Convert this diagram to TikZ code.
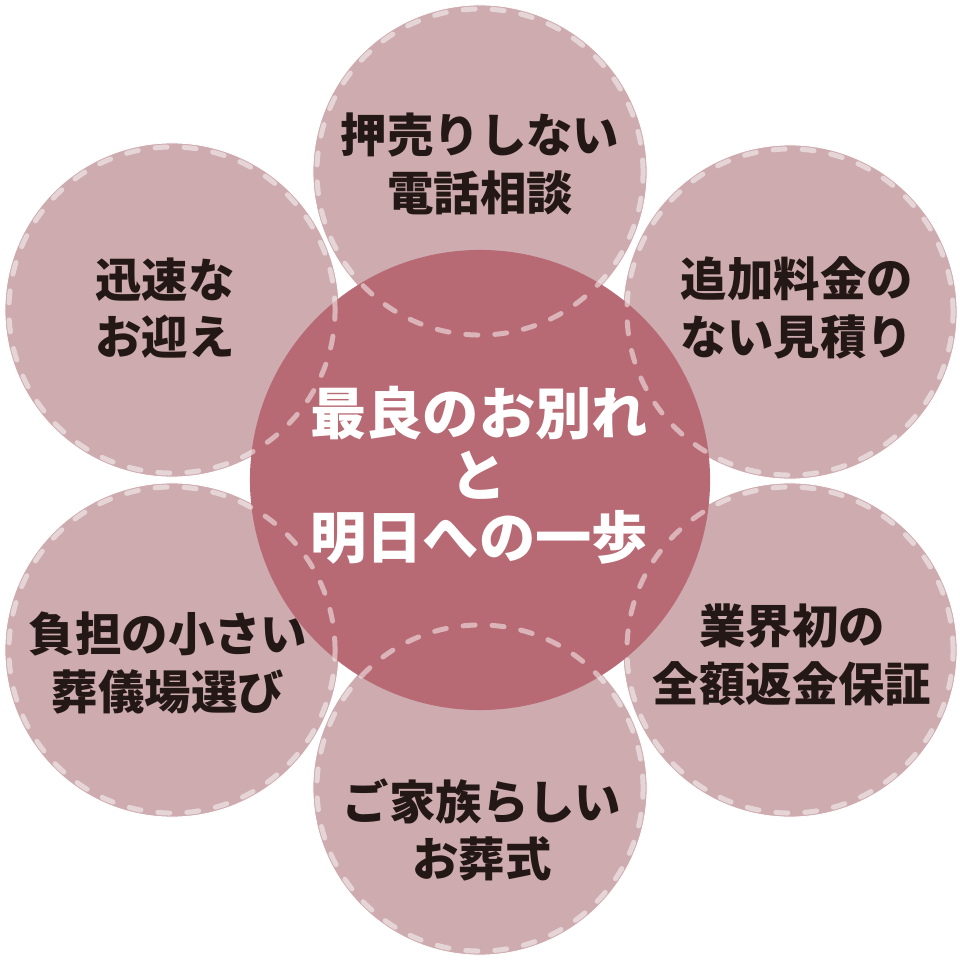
\documentclass[tikz,border=0pt]{standalone}
\usepackage{fontspec}
\newfontfamily\jp{Noto Sans CJK JP}
\definecolor{petalfill}{HTML}{CDABAF}
\definecolor{corefill}{HTML}{B76A73}
\definecolor{inkcol}{HTML}{231815}
\tikzset{
  petal/.style={circle, minimum size=8.35cm, inner sep=0pt, outer sep=0pt, fill=petalfill, draw=white, line width=0.6pt},
  core/.style={circle, minimum size=11.5cm, inner sep=0pt, outer sep=0pt, fill=corefill},
  dashring/.style={draw=white, draw opacity=0.5, line width=0.125cm, line cap=round, dash pattern=on 0.3cm off 0.425cm},
  petaltext/.style={font=\jp\bfseries\fontsize{33}{41}\selectfont, text=inkcol, align=center, inner sep=0pt},
  coretext/.style={font=\jp\bfseries\fontsize{40}{44}\selectfont, text=white, align=center, inner sep=0pt}
}
\begin{document}
\begin{tikzpicture}[x=0.025cm, y=-0.025cm]
\useasboundingbox (0,0) rectangle (960,960);
% petals
\node[petal] (p1) at (480,172) {};
\node[petal] (p2) at (790,312) {};
\node[petal] (p3) at (790,650) {};
\node[petal] (p4) at (480,788) {};
\node[petal] (p5) at (172,650) {};
\node[petal] (p6) at (172,310) {};
% core
\node[core] (c) at (480,480) {};
% dashed rings
\foreach \n in {p1,p2,p3,p4,p5,p6}{
  \draw[dashring] (\n.center) circle [radius=4.075cm];
}
% texts
\node[petaltext] (t1) at (480,164) {押売りしない\\電話相談};
\node[petaltext] (t2) at (797,308) {追加料金の\\ない見積り};
\node[petaltext] (t3) at (792,655) {業界初の\\全額返金保証};
\node[petaltext] (t4) at (482,830) {ご家族らしい\\お葬式};
\node[petaltext] (t5) at (168,663) {負担の小さい\\葬儀場選び};
\node[petaltext] (t6) at (165,308) {迅速な\\お迎え};
\node[coretext] (tc) at (479,475) {最良のお別れ\\と\\明日への一歩};
\end{tikzpicture}
\end{document}
